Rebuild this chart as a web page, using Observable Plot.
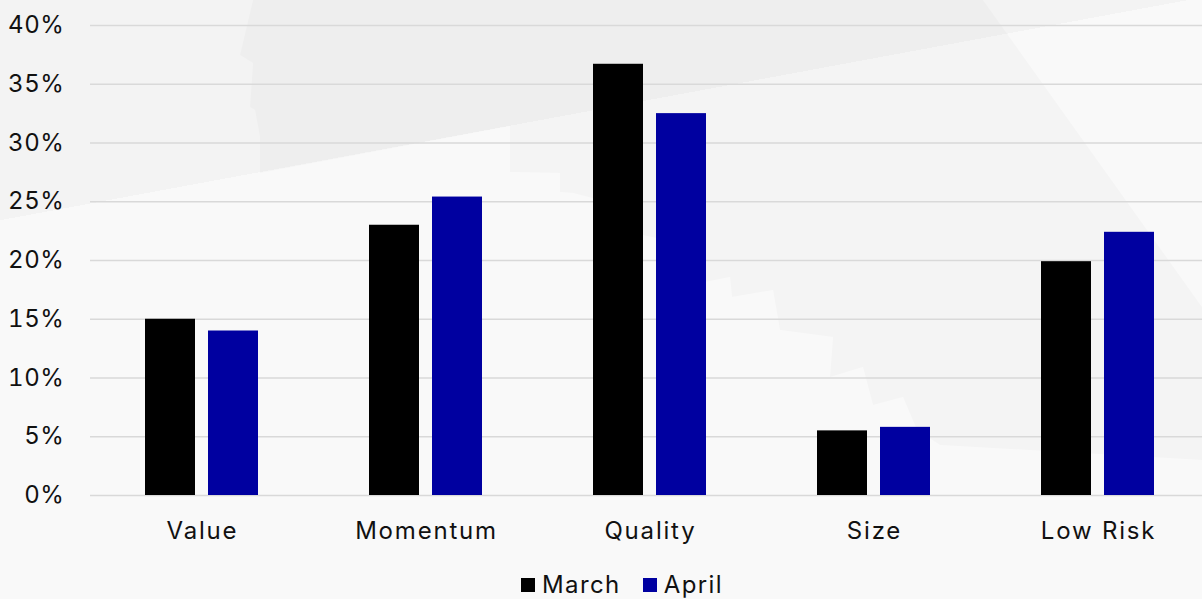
<!DOCTYPE html>
<html>
<head>
<meta charset="utf-8">
<script src="https://cdn.jsdelivr.net/npm/d3@7"></script>
<script src="https://cdn.jsdelivr.net/npm/@observablehq/plot@0.6"></script>
<style>
  html, body { margin: 0; padding: 0; overflow: hidden; }
  body {
    position: relative;
    width: 1202px; height: 599px;
    background: linear-gradient(169.5deg, #f3f3f3 26.8%, #f9f9f9 26.8%);
    font-family: Inter, "Noto Sans", sans-serif;
  }
  .watermark {
    position: absolute; left: 0; top: 0; width: 1202px; height: 599px; z-index: 0;
    background: rgba(0,0,0,0.02);
    clip-path: polygon(253px 0px, 983px 0px, 1202px 307px, 1202px 460px, 940px 445px, 917px 430px, 903px 397px, 873px 405px, 863px 367px, 830px 377px, 833px 337px, 780px 330px, 773px 290px, 732px 297px, 730px 277px, 700px 283px, 697px 247px, 620px 230px, 600px 200px, 573px 193px, 560px 192px, 560px 173px, 510px 172px, 510px 126px, 260px 173px, 260px 137px, 255px 110px, 250px 107px, 253px 63px, 240px 55px);
  }
  #chart, .legend { position: relative; z-index: 1; }
  #chart svg g[aria-label="fx-axis tick label"] text { letter-spacing: 1.8px; }
  #chart svg g[aria-label="y-axis tick label"] text { letter-spacing: 0.6px; }
  .legend { display: flex; justify-content: center; align-items: center; gap: 22px; font-size: 24px; color: #111; letter-spacing: 1.4px; margin-left: 42px; margin-top: 8px; }
  .legend span.item { display: inline-flex; align-items: center; gap: 7px; }
  .legend span.sw { width: 14px; height: 14px; display: inline-block; }
</style>
</head>
<body>
<div class="watermark"></div>
<div id="chart"></div>
<div class="legend" id="legend"></div>
<script>
const categories = ["Value", "Momentum", "Quality", "Size", "Low Risk"];
const seriesNames = ["March", "April"];
const march = [15.0, 23.0, 36.7, 5.5, 19.9];
const april = [14.0, 25.4, 32.5, 5.8, 22.4];
const yTicks = [0, 5, 10, 15, 20, 25, 30, 35, 40];
const colors = ["#000000", "#0000a0"];

const data = [];
categories.forEach((c, i) => {
  data.push({category: c, series: seriesNames[0], value: march[i]});
  data.push({category: c, series: seriesNames[1], value: april[i]});
});

const chart = Plot.plot({
  width: 1202,
  height: 562,
  marginLeft: 89,
  marginRight: -9,
  marginTop: 25,
  marginBottom: 67,
  style: {background: "transparent", fontSize: "24px", fontFamily: "Inter, 'Noto Sans', sans-serif", color: "#111", overflow: "visible"},
  fx: {domain: categories, padding: 0, label: null, axis: "bottom", tickSize: 0, tickPadding: 26},
  x: {domain: seriesNames, axis: null, paddingInner: 0.2, paddingOuter: 0.86},
  y: {domain: [0, 40], ticks: yTicks, tickFormat: d => d + "%", tickSize: 0, tickPadding: 26, label: null, grid: false},
  color: {domain: seriesNames, range: colors},
  marks: [
    Plot.ruleY(yTicks, {stroke: "#d9d9d9", strokeWidth: 1.5}),
    Plot.barY(data, {fx: "category", x: "series", y: "value", fill: "series"})
  ]
});
document.getElementById("chart").appendChild(chart);

const legend = document.getElementById("legend");
seriesNames.forEach((s, i) => {
  const item = document.createElement("span");
  item.className = "item";
  const sw = document.createElement("span");
  sw.className = "sw";
  sw.style.background = colors[i];
  item.appendChild(sw);
  item.appendChild(document.createTextNode(s));
  legend.appendChild(item);
});
</script>
</body>
</html>
